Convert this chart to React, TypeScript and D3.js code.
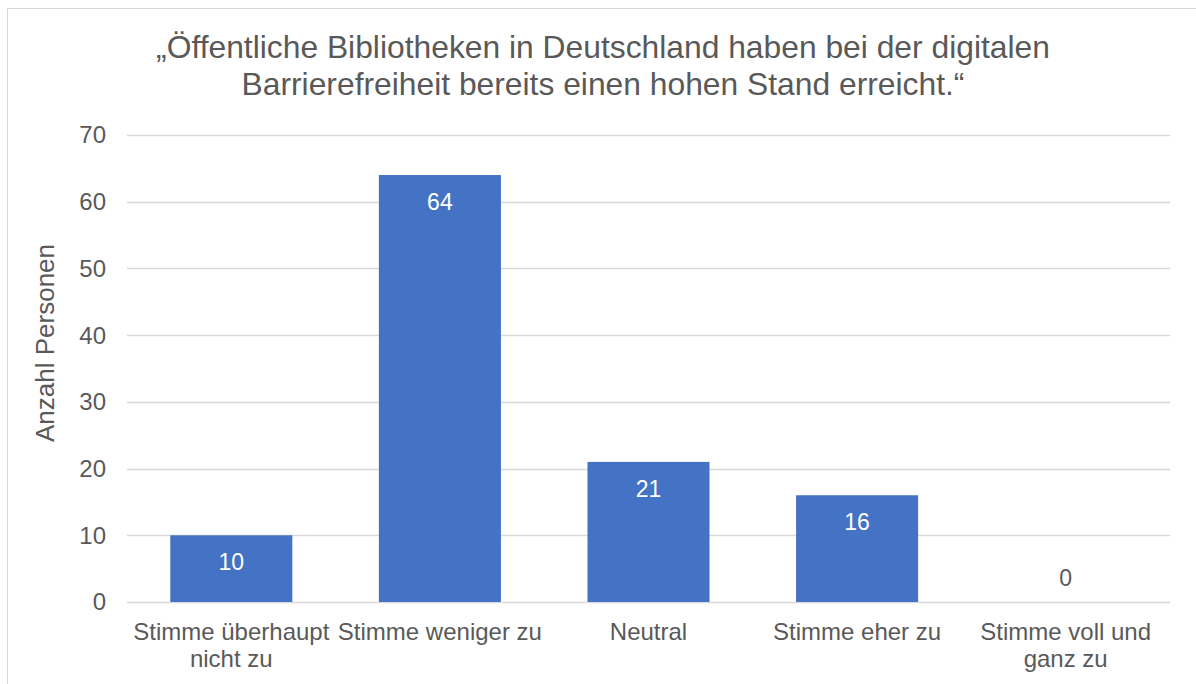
import { useEffect, useRef } from 'react';
import * as d3 from 'd3';

const categories = [
  ['Stimme überhaupt', 'nicht zu'],
  ['Stimme weniger zu'],
  ['Neutral'],
  ['Stimme eher zu'],
  ['Stimme voll und', 'ganz zu'],
];
const values = [10, 64, 21, 16, 0];
const yTicks = [0, 10, 20, 30, 40, 50, 60, 70];
const titleLines = [
  '„Öffentliche Bibliotheken in Deutschland haben bei der digitalen',
  'Barrierefreiheit bereits einen hohen Stand erreicht.“',
];
const yLabel = 'Anzahl Personen';

const W = 1196;
const H = 684;
const FONT = '"Liberation Sans", Arial, sans-serif';
const TEXT = '#595959';

const App = () => {
  const svgRef = useRef<SVGSVGElement>(null);

  useEffect(() => {
    const svg = d3.select(svgRef.current);
    svg.selectAll('*').remove();

    const margin = { top: 135, right: 26, bottom: 82, left: 127 };
    const width = W - margin.left - margin.right;
    const height = H - margin.top - margin.bottom;

    // chart frame (runs past the right / bottom edge)
    svg.append('rect')
      .attr('x', 7.5).attr('y', 8.5)
      .attr('width', 1200).attr('height', 700)
      .attr('fill', '#fff')
      .attr('stroke', '#d9d9d9');

    svg.append('text')
      .attr('font-family', FONT)
      .attr('font-size', 31.8)
      .attr('fill', TEXT)
      .attr('text-anchor', 'middle')
      .selectAll('tspan')
      .data(titleLines)
      .enter().append('tspan')
      .attr('x', 603)
      .attr('y', (d, i) => 58 + i * 37)
      .text(d => d);

    const g = svg.append('g')
      .attr('transform', `translate(${margin.left},${margin.top})`);

    const x = d3.scaleBand<number>()
      .domain(values.map((d, i) => i))
      .range([0, width])
      .paddingInner(0.415)
      .paddingOuter(0.2075);

    const y = d3.scaleLinear().domain([0, 70]).range([height, 0]);

    g.selectAll('.grid')
      .data(yTicks)
      .enter().append('line')
      .attr('x1', 0).attr('x2', width)
      .attr('y1', d => Math.round(y(d)) + 0.5)
      .attr('y2', d => Math.round(y(d)) + 0.5)
      .attr('stroke', '#d9d9d9')
      .attr('stroke-width', 1.5);

    g.selectAll('.ytick')
      .data(yTicks)
      .enter().append('text')
      .attr('x', -21)
      .attr('y', d => y(d))
      .attr('dy', '0.35em')
      .attr('text-anchor', 'end')
      .attr('font-family', FONT)
      .attr('font-size', 24)
      .attr('fill', TEXT)
      .text(d => d);

    g.selectAll('.bar')
      .data(values)
      .enter().append('rect')
      .attr('x', (d, i) => x(i)!)
      .attr('y', d => y(d))
      .attr('width', x.bandwidth())
      .attr('height', d => height - y(d))
      .attr('fill', '#4472c4');

    g.selectAll('.vlabel')
      .data(values)
      .enter().append('text')
      .attr('x', (d, i) => x(i)! + x.bandwidth() / 2)
      .attr('y', d => d > 0 ? y(d) + 27 : y(d) - 24)
      .attr('dy', '0.35em')
      .attr('text-anchor', 'middle')
      .attr('font-family', FONT)
      .attr('font-size', 23)
      .attr('fill', d => d > 0 ? '#fff' : TEXT)
      .text(d => d);

    const xl = g.selectAll('.xlabel')
      .data(categories)
      .enter().append('text')
      .attr('text-anchor', 'middle')
      .attr('font-family', FONT)
      .attr('font-size', 24)
      .attr('fill', TEXT);
    xl.selectAll('tspan')
      .data((d, i) => d.map(t => ({ t, i })))
      .enter().append('tspan')
      .attr('x', d => x(d.i)! + x.bandwidth() / 2)
      .attr('y', (d, j) => height + 38 + j * 27)
      .text(d => d.t);

    svg.append('text')
      .attr('transform', `translate(54,343) rotate(-90)`)
      .attr('text-anchor', 'middle')
      .attr('font-family', FONT)
      .attr('font-size', 26)
      .attr('fill', TEXT)
      .text(yLabel);
  }, []);

  return (
    <svg ref={svgRef} width={W} height={H}
      style={{ position: 'absolute', left: 0, top: 0, display: 'block' }} />
  );
};

export default App;
